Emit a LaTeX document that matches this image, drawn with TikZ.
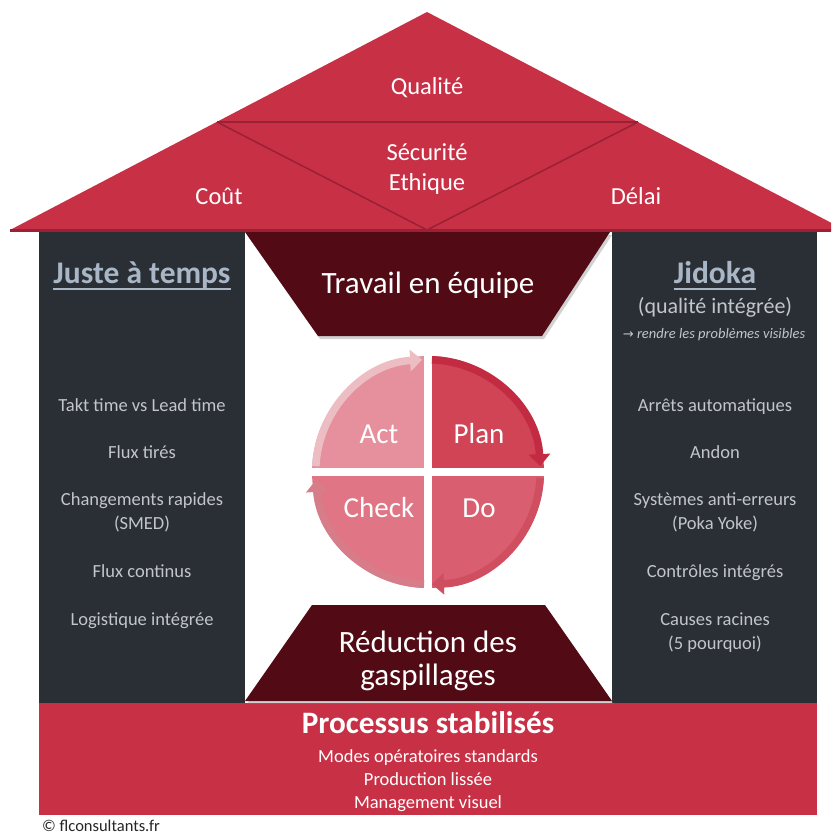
\documentclass[tikz,border=0pt]{standalone}
\usepackage{fontspec}
\setmainfont{Carlito}
\newfontfamily\symfont{DejaVu Sans}
\usetikzlibrary{arrows.meta,shadows}
\definecolor{roofred}{HTML}{C83046}
\definecolor{roofline}{HTML}{9A2033}
\definecolor{pillar}{HTML}{2A2E35}
\definecolor{maroon}{HTML}{520B15}
\definecolor{ptitle}{HTML}{A9B6C6}
\definecolor{ptext}{HTML}{C2C6CC}
\definecolor{planfill}{HTML}{D04456}
\definecolor{dofill}{HTML}{D95E6F}
\definecolor{checkfill}{HTML}{E07685}
\definecolor{actfill}{HTML}{E5909C}
\definecolor{planarrow}{HTML}{C22B41}
\definecolor{doarrow}{HTML}{CF4E60}
\definecolor{checkarrow}{HTML}{D77D89}
\definecolor{actarrow}{HTML}{EDBDC4}
\tikzset{
  rooftxt/.style={text=white, inner sep=0pt, anchor=base, font=\fontsize{24.5}{28}\selectfont},
  bandtxt/.style={text=white, inner sep=0pt, anchor=base, font=\fontsize{31}{35}\selectfont},
  pdcatxt/.style={text=white, inner sep=0pt, anchor=base, font=\fontsize{29}{33}\selectfont},
  ptitletxt/.style={text=ptitle, inner sep=0pt, anchor=base, font=\fontsize{31.5}{35}\selectfont\bfseries},
  pitem/.style={text=ptext, inner sep=0pt, anchor=base, font=\fontsize{18.5}{21}\selectfont},
  basetxt/.style={text=white, inner sep=0pt, anchor=base, font=\fontsize{18.5}{21}\selectfont},
  trap/.style={fill=maroon, drop shadow={opacity=0.35, shadow xshift=2pt, shadow yshift=-3pt}},
  pdcaarrow/.style={line width=7.5pt, -{Triangle[width=21pt,length=12pt]}},
}
\begin{document}
\begin{tikzpicture}[x=1pt,y=1pt]
\useasboundingbox (0,0) rectangle (831,-834);
\fill[white] (0,0) rectangle (831,-834);
% roof
\begin{scope}
\clip (0,0) rectangle (831,-834);
\fill[roofred] (10,-230) -- (427,-12) -- (845,-230) -- cycle;
\fill[roofline] (10,-228.5) rectangle (845,-232);
\end{scope}
\draw[roofline, line width=1.5pt] (217,-122) -- (638,-122);
\draw[roofline, line width=1.5pt] (217,-122) -- (427,-230) -- (638,-122);
\node[rooftxt] (qual) at (427,-95) {Qualité};
\node[rooftxt] (secu) at (427,-161) {Sécurité};
\node[rooftxt] (ethi) at (427,-191) {Ethique};
\node[rooftxt] (cout) at (219,-205) {Coût};
\node[rooftxt] (dela) at (636,-205) {Délai};
% pillars
\fill[pillar] (39,-232) rectangle (245,-703);
\fill[pillar] (612,-232) rectangle (817,-703);
% base band
\fill[roofred] (39,-703) rectangle (817,-815);
% trapezoids
\path[trap] (245,-232) -- (610,-232) -- (542,-336) -- (318,-336) -- cycle;
\path[trap] (312,-605) -- (545,-605) -- (612,-701) -- (245,-701) -- cycle;
\node[bandtxt] (team) at (428,-293) {Travail en équipe};
\node[bandtxt] (red1) at (428,-652) {Réduction des};
\node[bandtxt] (red2) at (428,-685) {gaspillages};
% left pillar
\node[ptitletxt] (jat) at (142,-283) {Juste à temps};
\draw[ptitle, line width=2pt] ([yshift=-6pt]jat.base west) -- ([yshift=-6pt]jat.base east);
\node[pitem] (l1) at (142,-411) {Takt time vs Lead time};
\node[pitem] (l2) at (142,-458) {Flux tirés};
\node[pitem] (l3) at (142,-505) {Changements rapides};
\node[pitem] (l4) at (142,-529) {(SMED)};
\node[pitem] (l5) at (142,-577) {Flux continus};
\node[pitem] (l6) at (142,-625) {Logistique intégrée};
% right pillar
\node[ptitletxt] (jid) at (715,-283) {Jidoka};
\draw[ptitle, line width=2pt] ([yshift=-6pt]jid.base west) -- ([yshift=-6pt]jid.base east);
\node[pitem, font=\fontsize{22}{25}\selectfont] (qi) at (715,-313) {(qualité intégrée)};
\node[pitem, font=\fontsize{14.5}{17}\selectfont\itshape] (rv) at (714,-338) {{\symfont\fontsize{13}{15}\selectfont\upshape →} rendre les problèmes visibles};
\node[pitem] (r1) at (715,-411) {Arrêts automatiques};
\node[pitem] (r2) at (715,-458) {Andon};
\node[pitem] (r3) at (715,-505) {Systèmes anti-erreurs};
\node[pitem] (r4) at (715,-529) {(Poka Yoke)};
\node[pitem] (r5) at (715,-577) {Contrôles intégrés};
\node[pitem] (r6) at (715,-625) {Causes racines};
\node[pitem] (r7) at (715,-649) {(5 pourquoi)};
% PDCA
\coordinate (C) at (428,-472);
\fill[planfill] (C) -- ++(0:116) arc[start angle=0, end angle=90, radius=116] -- cycle;
\fill[actfill] (C) -- ++(90:116) arc[start angle=90, end angle=180, radius=116] -- cycle;
\fill[checkfill] (C) -- ++(180:116) arc[start angle=180, end angle=270, radius=116] -- cycle;
\fill[dofill] (C) -- ++(270:116) arc[start angle=270, end angle=360, radius=116] -- cycle;
\fill[white] (424,-350) rectangle (432,-596);
\fill[white] (306,-468) rectangle (552,-476);
\draw[pdcaarrow, planarrow] (C) ++(88:112.3) arc[start angle=88, end angle=3, radius=112.3];
\draw[pdcaarrow, doarrow] (C) ++(-3:112.3) arc[start angle=-3, end angle=-88, radius=112.3];
\draw[pdcaarrow, checkarrow] (C) ++(268:112.3) arc[start angle=268, end angle=184, radius=112.3];
\draw[pdcaarrow, actarrow] (C) ++(177:112.3) arc[start angle=177, end angle=93, radius=112.3];
\node[pdcatxt] (act) at (379,-443) {Act};
\node[pdcatxt] (plan) at (479,-443) {Plan};
\node[pdcatxt] (check) at (379,-517) {Check};
\node[pdcatxt] (do) at (479,-517) {Do};
% base texts
\node[basetxt, font=\fontsize{31.2}{35}\selectfont\bfseries] (proc) at (428,-733) {Processus stabilisés};
\node[basetxt] (b1) at (428,-762) {Modes opératoires standards};
\node[basetxt] (b2) at (428,-785) {Production lissée};
\node[basetxt] (b3) at (428,-808) {Management visuel};
\node[inner sep=0pt, anchor=base west, text=black!85, font=\fontsize{16.5}{19}\selectfont] (copy) at (42,-831) {© flconsultants.fr};
\end{tikzpicture}
\end{document}
